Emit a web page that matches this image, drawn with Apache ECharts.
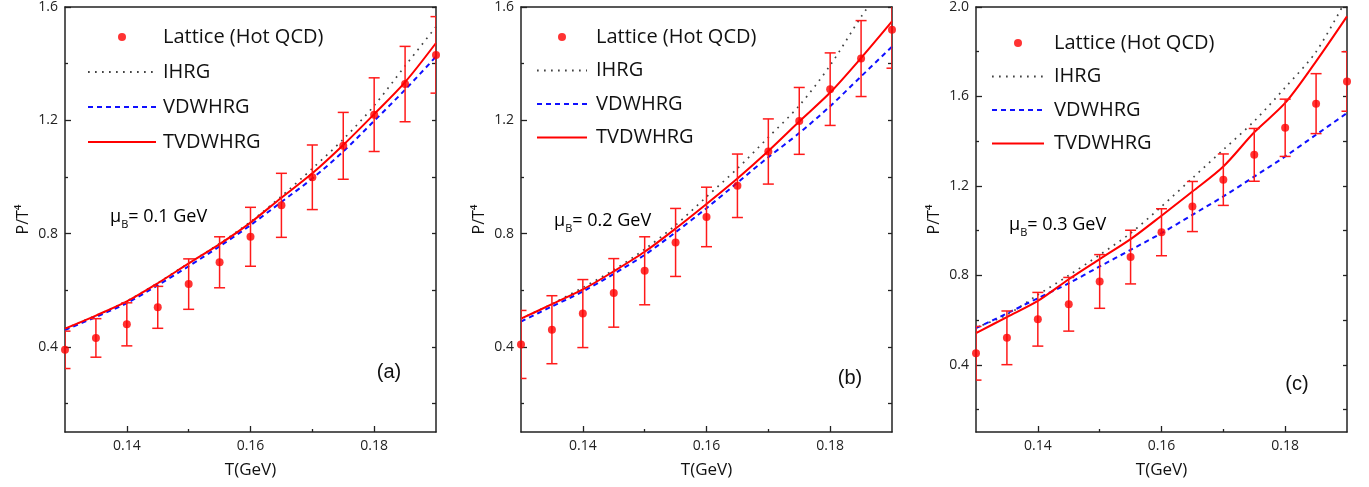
<!DOCTYPE html>
<html>
<head>
<meta charset="utf-8">
<script src="https://cdn.jsdelivr.net/npm/echarts@6/dist/echarts.min.js"></script>
<style>
html,body{margin:0;padding:0;background:#fff;}
#chart{width:1369px;height:487px;}
</style>
</head>
<body>
<div id="chart"></div>
<script>
// ---------- data ----------
const T = [0.13, 0.135, 0.14, 0.145, 0.15, 0.155, 0.16, 0.165, 0.17, 0.175, 0.18, 0.185, 0.19];

// panel (a) muB = 0.1 GeV
const latticeA = [0.39, 0.432, 0.48, 0.54, 0.622, 0.699, 0.789, 0.90, 0.999, 1.11, 1.22, 1.328, 1.431];
const errA     = [0.066, 0.068, 0.076, 0.074, 0.089, 0.09, 0.104, 0.113, 0.114, 0.118, 0.13, 0.133, 0.135];
const ihrgA    = [0.465, 0.511, 0.562, 0.626, 0.696, 0.765, 0.842, 0.932, 1.03, 1.133, 1.252, 1.392, 1.53];
const vdwA     = [0.46, 0.506, 0.555, 0.618, 0.685, 0.755, 0.83, 0.912, 0.995, 1.09, 1.198, 1.308, 1.425];
const tvdwA    = [0.465, 0.511, 0.561, 0.625, 0.695, 0.763, 0.839, 0.927, 1.013, 1.113, 1.222, 1.335, 1.473];

// panel (b) muB = 0.2 GeV
const latticeB = [0.409, 0.461, 0.518, 0.591, 0.669, 0.769, 0.859, 0.969, 1.09, 1.198, 1.31, 1.418, 1.52];
const errB     = [0.12, 0.12, 0.12, 0.121, 0.12, 0.12, 0.105, 0.112, 0.115, 0.118, 0.128, 0.134, 0.136];
const ihrgB    = [0.50, 0.552, 0.61, 0.672, 0.745, 0.83, 0.93, 1.03, 1.14, 1.252, 1.394, 1.565, 1.72];
const vdwB     = [0.49, 0.543, 0.596, 0.658, 0.725, 0.805, 0.89, 0.98, 1.07, 1.155, 1.25, 1.355, 1.46];
const tvdwB    = [0.50, 0.551, 0.603, 0.667, 0.736, 0.818, 0.905, 0.995, 1.092, 1.196, 1.298, 1.42, 1.549];

// panel (c) muB = 0.3 GeV
const latticeC = [0.452, 0.521, 0.604, 0.671, 0.773, 0.882, 0.993, 1.108, 1.228, 1.339, 1.46, 1.568, 1.667];
const errC     = [0.12, 0.12, 0.12, 0.12, 0.12, 0.12, 0.105, 0.112, 0.115, 0.118, 0.128, 0.134, 0.133];
const ihrgC    = [0.567, 0.624, 0.713, 0.80, 0.892, 0.989, 1.108, 1.235, 1.362, 1.49, 1.64, 1.80, 2.04];
const vdwC     = [0.564, 0.63, 0.698, 0.765, 0.84, 0.914, 0.989, 1.071, 1.153, 1.242, 1.332, 1.429, 1.526];
const tvdwC    = [0.542, 0.614, 0.686, 0.783, 0.873, 0.962, 1.067, 1.175, 1.287, 1.44, 1.571, 1.757, 1.958];

// ticks
const xTickLabels = [0.14, 0.16, 0.18];
const xMinorTicks = [0.15, 0.17];
const yTickLabelsAB = [0.4, 0.8, 1.2, 1.6];
const yMinorTicksAB = [0.2, 0.6, 1.0, 1.4];
const yTickLabelsC = [0.4, 0.8, 1.2, 1.6, 2.0];
const yMinorTicksC = [0.2, 0.6, 1.0, 1.4, 1.8];

const seriesNames = ['Lattice (Hot QCD)', 'IHRG', 'VDWHRG', 'TVDWHRG'];
const muLabels = ['0.1 GeV', '0.2 GeV', '0.3 GeV'];
const panelTags = ['(a)', '(b)', '(c)'];

// ---------- layout ----------
const FONT = "'Open Sans', 'Noto Sans', sans-serif";
const panels = [
  {left: 65,  lat: latticeA, err: errA, ihrg: ihrgA, vdw: vdwA, tvdw: tvdwA, ymax: 1.6, yl: yTickLabelsAB, ym: yMinorTicksAB,
   legend: {left: 82, top: 22, itemWidth: 68, gap: 15, pad: 2}, mu: [110, 220], tag: [389, 372]},
  {left: 521, lat: latticeB, err: errB, ihrg: ihrgB, vdw: vdwB, tvdw: tvdwB, ymax: 1.6, yl: yTickLabelsAB, ym: yMinorTicksAB,
   legend: {left: 531, top: 22, itemWidth: 50, gap: 13.5, pad: 4}, mu: [554, 224], tag: [850, 378]},
  {left: 976, lat: latticeC, err: errC, ihrg: ihrgC, vdw: vdwC, tvdw: tvdwC, ymax: 2.0, yl: yTickLabelsC, ym: yMinorTicksC,
   legend: {left: 986, top: 28, itemWidth: 52, gap: 13.5, pad: 5}, mu: [1009, 228], tag: [1297, 384]}
];

const AXIS_COLOR = '#222';
const grid = [], xAxis = [], yAxis = [], series = [], legend = [], graphic = [];

const legendData = seriesNames.map((n, k) => k === 0 ? {name: n} : {name: n, itemStyle: {opacity: 0}});

panels.forEach((p, i) => {
  grid.push({left: p.left, top: 7, width: 371, height: 425, containLabel: false});
  // x axes: main, minor, top
  xAxis.push({
    type: 'value', gridIndex: i, min: 0.13, max: 0.19, position: 'bottom',
    name: 'T(GeV)', nameLocation: 'middle', nameGap: 30,
    nameTextStyle: {fontFamily: FONT, fontSize: 17, color: '#111'},
    axisLine: {show: true, onZero: false, lineStyle: {color: AXIS_COLOR, width: 1.5}},
    axisTick: {show: true, inside: true, length: 6, customValues: xTickLabels, lineStyle: {color: AXIS_COLOR, width: 1.3}},
    axisLabel: {show: true, customValues: xTickLabels, margin: 7, fontFamily: FONT, fontSize: 14, color: '#222',
      formatter: v => Number(v).toFixed(2)},
    splitLine: {show: false}
  });
  xAxis.push({
    type: 'value', gridIndex: i, min: 0.13, max: 0.19, position: 'bottom',
    axisLine: {show: false, onZero: false},
    axisTick: {show: true, inside: true, length: 3, customValues: xMinorTicks, lineStyle: {color: AXIS_COLOR, width: 1.3}},
    axisLabel: {show: false}, splitLine: {show: false}
  });
  xAxis.push({
    type: 'value', gridIndex: i, min: 0.13, max: 0.19, position: 'top',
    axisLine: {show: true, onZero: false, lineStyle: {color: AXIS_COLOR, width: 1.5}},
    axisTick: {show: false}, axisLabel: {show: false}, splitLine: {show: false}
  });
  // y axes: main, minor, right
  yAxis.push({
    type: 'value', gridIndex: i, min: 0.1, max: p.ymax, position: 'left',
    name: 'P/T⁴', nameLocation: 'middle', nameRotate: 90, nameGap: 34,
    nameTextStyle: {fontFamily: FONT, fontSize: 16, color: '#111'},
    axisLine: {show: true, onZero: false, lineStyle: {color: AXIS_COLOR, width: 1.5}},
    axisTick: {show: true, inside: true, length: 6, customValues: p.yl, lineStyle: {color: AXIS_COLOR, width: 1.3}},
    axisLabel: {show: true, customValues: p.yl, margin: 7, fontFamily: FONT, fontSize: 14, color: '#222',
      formatter: v => Number(v).toFixed(1)},
    splitLine: {show: false}
  });
  yAxis.push({
    type: 'value', gridIndex: i, min: 0.1, max: p.ymax, position: 'left',
    axisLine: {show: false, onZero: false},
    axisTick: {show: true, inside: true, length: 3, customValues: p.ym, lineStyle: {color: AXIS_COLOR, width: 1.3}},
    axisLabel: {show: false}, splitLine: {show: false}
  });
  yAxis.push({
    type: 'value', gridIndex: i, min: 0.1, max: p.ymax, position: 'right',
    axisLine: {show: true, onZero: false, lineStyle: {color: AXIS_COLOR, width: 1.5}},
    axisTick: {show: true, inside: true, length: 4, customValues: p.yl.concat(p.ym), lineStyle: {color: AXIS_COLOR, width: 1.3}},
    axisLabel: {show: false}, splitLine: {show: false}
  });

  const xi = 3 * i, yi = 3 * i;
  series.push({
    name: 'IHRG', type: 'line', xAxisIndex: xi, yAxisIndex: yi, symbol: 'none', smooth: 0.3,
    data: T.map((t, k) => [t, p.ihrg[k]]),
    lineStyle: {color: '#444', width: 1.7, type: [1.7, 5.3]}, itemStyle: {color: '#444'}, z: 3
  });
  series.push({
    name: 'VDWHRG', type: 'line', xAxisIndex: xi, yAxisIndex: yi, symbol: 'none', smooth: 0.3,
    data: T.map((t, k) => [t, p.vdw[k]]),
    lineStyle: {color: '#1010ff', width: 2, type: [5, 4]}, itemStyle: {color: '#1010ff'}, z: 3
  });
  series.push({
    name: 'TVDWHRG', type: 'line', xAxisIndex: xi, yAxisIndex: yi, symbol: 'none', smooth: 0.3,
    data: T.map((t, k) => [t, p.tvdw[k]]),
    lineStyle: {color: '#ff0000', width: 2}, itemStyle: {color: '#ff0000'}, z: 4
  });
  series.push({
    name: 'errbar' + i, type: 'custom', xAxisIndex: xi, yAxisIndex: yi, clip: true,
    data: T.map((t, k) => [t, p.lat[k] - p.err[k], p.lat[k] + p.err[k]]),
    encode: {x: 0, y: [1, 2]},
    renderItem: function (params, api) {
      const x = api.value(0);
      const lo = api.coord([x, api.value(1)]);
      const hi = api.coord([x, api.value(2)]);
      const w = 5.5;
      const st = {stroke: '#ff1a1a', lineWidth: 1.5};
      return {type: 'group', children: [
        {type: 'line', shape: {x1: hi[0], y1: hi[1], x2: lo[0], y2: lo[1]}, style: st},
        {type: 'line', shape: {x1: hi[0] - w, y1: hi[1], x2: hi[0] + w, y2: hi[1]}, style: st},
        {type: 'line', shape: {x1: lo[0] - w, y1: lo[1], x2: lo[0] + w, y2: lo[1]}, style: st}
      ]};
    },
    z: 5, silent: true
  });
  series.push({
    name: 'Lattice (Hot QCD)', type: 'scatter', xAxisIndex: xi, yAxisIndex: yi,
    data: T.map((t, k) => [t, p.lat[k]]), symbol: 'circle', symbolSize: 8,
    itemStyle: {color: '#ff0000'}, z: 6
  });

  legend.push({
    orient: 'vertical', left: p.legend.left, top: p.legend.top,
    itemWidth: p.legend.itemWidth, itemHeight: 8, itemGap: p.legend.gap,
    data: legendData, selectedMode: false,
    textStyle: {fontFamily: FONT, fontSize: 20, color: '#111', lineHeight: 20, padding: [0, 0, 0, p.legend.pad]}
  });

  graphic.push({
    type: 'text', left: p.mu[0], top: p.mu[1] - 12,
    style: {
      text: '{a|μ}{b|B}{a|= ' + muLabels[i] + '}',
      rich: {
        a: {fontFamily: FONT, fontSize: 18, color: '#111', lineHeight: 24, verticalAlign: 'bottom'},
        b: {fontFamily: FONT, fontSize: 11, color: '#111', lineHeight: 24, verticalAlign: 'bottom', padding: [0, 0, -4, 0]}
      }
    }
  });
  graphic.push({
    type: 'text', x: p.tag[0], y: p.tag[1],
    style: {text: panelTags[i], fontFamily: "'Liberation Sans', Arial, sans-serif", fontSize: 20, fill: '#111',
      align: 'center', verticalAlign: 'middle'}
  });
});

const chart = echarts.init(document.getElementById('chart'), null, {renderer: 'canvas'});
chart.setOption({
  animation: false,
  backgroundColor: '#fff',
  grid, xAxis, yAxis, series, legend, graphic
});
</script>
</body>
</html>
